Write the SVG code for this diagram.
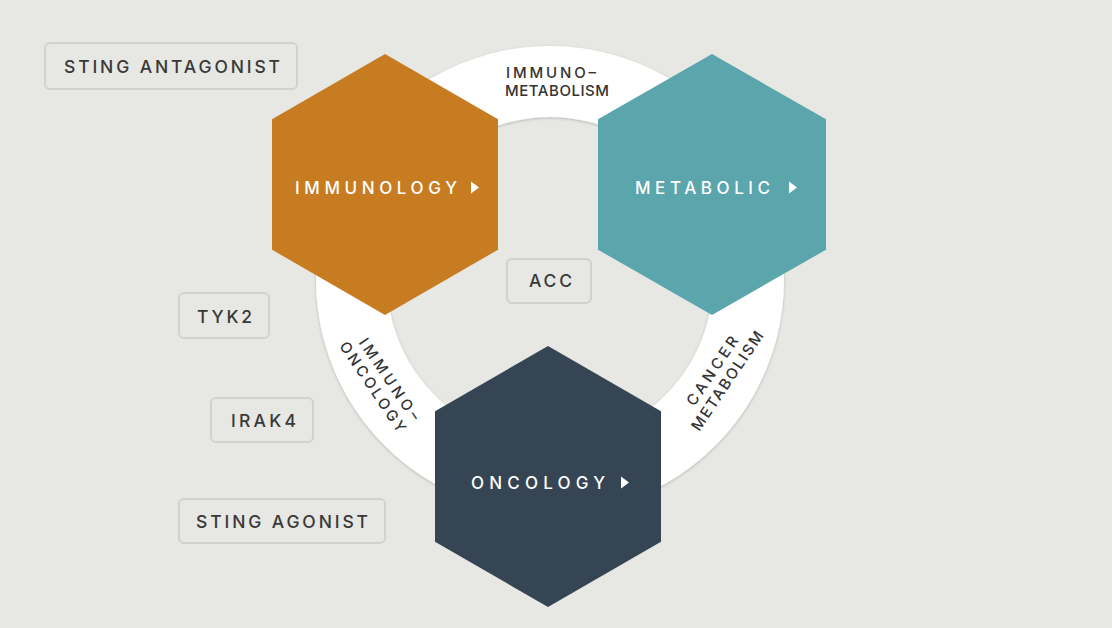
<svg xmlns="http://www.w3.org/2000/svg" width="1112" height="628" viewBox="0 0 1112 628">
  <defs>
    <style>
      .box rect { fill: #e7e7e3; stroke: #d1d1cd; stroke-width: 2; }
      .box text { font-family: Inter, "Liberation Sans", Arial, sans-serif; font-weight: 500; font-size: 17.5px; fill: #383838; text-anchor: middle; }
      .hexlabel { font-family: Inter, "Liberation Sans", Arial, sans-serif; font-weight: 500; font-size: 17px; fill: #ffffff; }
      .tri { fill: #ffffff; }
      .ringtext { font-family: Inter, "Liberation Sans", Arial, sans-serif; font-weight: 500; font-size: 15px; fill: #333333; text-anchor: middle; }
    </style>
    <filter id="ringShadow" x="-10%" y="-10%" width="120%" height="120%">
      <feDropShadow dx="0" dy="1" stdDeviation="1.5" flood-color="#000000" flood-opacity="0.22"/>
    </filter>
  </defs>

  <rect x="0" y="0" width="1112" height="628" fill="#e7e7e3"/>

  <g id="ring">
    <path d="M550,46 A234,234 0 1,1 549.99,46 Z M550,117 A163,163 0 1,0 550.01,117 Z" fill="#ffffff" fill-rule="evenodd" filter="url(#ringShadow)"/>
    <text class="ringtext" x="551" y="78" textLength="90" lengthAdjust="spacing">IMMUNO–</text>
    <text class="ringtext" x="557" y="96" textLength="104" lengthAdjust="spacing">METABOLISM</text>
    <g transform="translate(380,382) rotate(56)">
      <text class="ringtext" x="3" y="-4" textLength="96" lengthAdjust="spacing">IMMUNO–</text>
      <text class="ringtext" x="0" y="14" textLength="106" lengthAdjust="spacing">ONCOLOGY</text>
    </g>
    <g transform="translate(720,376) rotate(-56)">
      <text class="ringtext" x="0" y="-4" textLength="80" lengthAdjust="spacing">CANCER</text>
      <text class="ringtext" x="0" y="14" textLength="116" lengthAdjust="spacing">METABOLISM</text>
    </g>
  </g>

  <g id="immunology">
    <polygon points="385,54 498,119.3 498,249.7 385,315 272,249.7 272,119.3" fill="#c77c22"/>
    <text class="hexlabel" x="295" y="193.5" textLength="162" lengthAdjust="spacing">IMMUNOLOGY</text>
    <polygon class="tri" points="471,181.5 479,187.5 471,193.5"/>
  </g>

  <g id="metabolic">
    <polygon points="712,54 826,119.3 826,249.7 712,315 598,249.7 598,119.3" fill="#5ba5ad"/>
    <text class="hexlabel" x="635" y="193.5" textLength="135" lengthAdjust="spacing">METABOLIC</text>
    <polygon class="tri" points="789,181.5 797,187.5 789,193.5"/>
  </g>

  <g id="oncology">
    <polygon points="548,346 661,411.3 661,541.7 548,607 435,541.7 435,411.3" fill="#364554"/>
    <text class="hexlabel" x="471" y="489" textLength="134" lengthAdjust="spacing">ONCOLOGY</text>
    <polygon class="tri" points="621,476.5 629,482.5 621,488.5"/>
  </g>

  <g id="sting-antagonist" class="box">
    <rect x="45" y="43" width="252" height="46" rx="5"/>
    <text x="172" y="72.5" textLength="216" lengthAdjust="spacing">STING ANTAGONIST</text>
  </g>

  <g id="tyk2" class="box">
    <rect x="179" y="293" width="90" height="45" rx="5"/>
    <text x="224.5" y="322.5" textLength="55" lengthAdjust="spacing">TYK2</text>
  </g>

  <g id="irak4" class="box">
    <rect x="211" y="398" width="102" height="44" rx="5"/>
    <text x="263.5" y="427" textLength="65" lengthAdjust="spacing">IRAK4</text>
  </g>

  <g id="sting-agonist" class="box">
    <rect x="179" y="499" width="206" height="44" rx="5"/>
    <text x="282" y="527.5" textLength="172" lengthAdjust="spacing">STING AGONIST</text>
  </g>

  <g id="acc" class="box">
    <rect x="507" y="259" width="84" height="44" rx="5"/>
    <text x="550.5" y="287" textLength="43" lengthAdjust="spacing">ACC</text>
  </g>
</svg>
